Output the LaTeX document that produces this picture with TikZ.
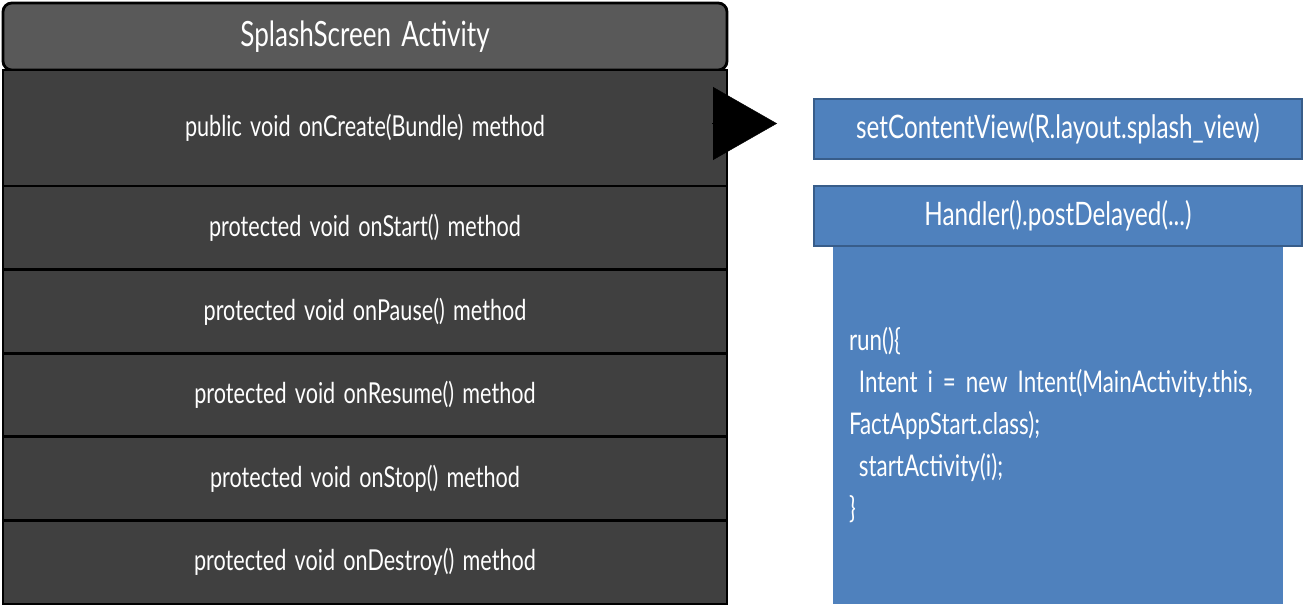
\documentclass[tikz,border=0pt]{standalone}
\usepackage{fontspec}
\setmainfont{Lato}[FakeStretch=0.75,WordSpace=1.5]
\usetikzlibrary{positioning,arrows.meta}

\definecolor{rowgrey}{HTML}{404040}
\definecolor{headgrey}{HTML}{595959}
\definecolor{boxblue}{HTML}{4F81BD}
\definecolor{edgeblue}{HTML}{385D8A}

\begin{document}
\begin{tikzpicture}[
    every node/.style={text=white, outer sep=0pt, inner sep=0pt},
    method/.style={rectangle, draw=black, fill=rowgrey, line width=1.6pt,
        minimum width=14.48cm, minimum height=1.672cm, font=\fontsize{16.4}{18}\selectfont},
    bluebox/.style={rectangle, draw=edgeblue, fill=boxblue, line width=1.6pt,
        minimum width=9.76cm, minimum height=1.2cm, font=\fontsize{18.4}{20}\selectfont}
]

\useasboundingbox (0,0) rectangle (26.08,-12.12);

% ================= Activity =================

\node[method, fill=headgrey, rounded corners=5pt, minimum height=1.34cm,
      font=\fontsize{19.8}{22}\selectfont] (head) at (7.3,-0.73) {SplashScreen Activity};

\node[method, minimum height=2.32cm, below=0pt of head] (oncreate) {public void onCreate(Bundle) method};
\node[method, below=0pt of oncreate] (onstart) {protected void onStart() method};
\node[method, below=0pt of onstart] (onpause) {protected void onPause() method};
\node[method, below=0pt of onpause] (onresume) {protected void onResume() method};
\node[method, below=0pt of onresume] (onstop) {protected void onStop() method};
\node[method, below=0pt of onstop] (ondestroy) {protected void onDestroy() method};



% ================= onCreate body =================

\node[bluebox] (setcv) at (21.16,-2.58) {setContentView(R.layout.splash\_view)};
\node[bluebox] (handler) at (21.16,-4.32) {Handler().postDelayed(...)};

\node[rectangle, fill=boxblue, minimum width=9.0cm, minimum height=7.16cm,
      below=0pt of handler, text width=8.36cm, align=left,
      font=\fontsize{17}{23.8}\selectfont] (runbody)
{run()\{\\
\ Intent i = new Intent(MainActivity.this,\\
FactAppStart.class);\\
\ startActivity(i);\\
\}};

\node[bluebox] at (handler) {Handler().postDelayed(...)};


% Arrow

\draw[line width=0.2pt, -{Triangle[length=1.28cm, width=1.46cm]}]
    ([xshift=-0.3cm, yshift=0.09cm]oncreate.east) -- ([xshift=-0.74cm, yshift=0.11cm]setcv.west);

\end{tikzpicture}
\end{document}
